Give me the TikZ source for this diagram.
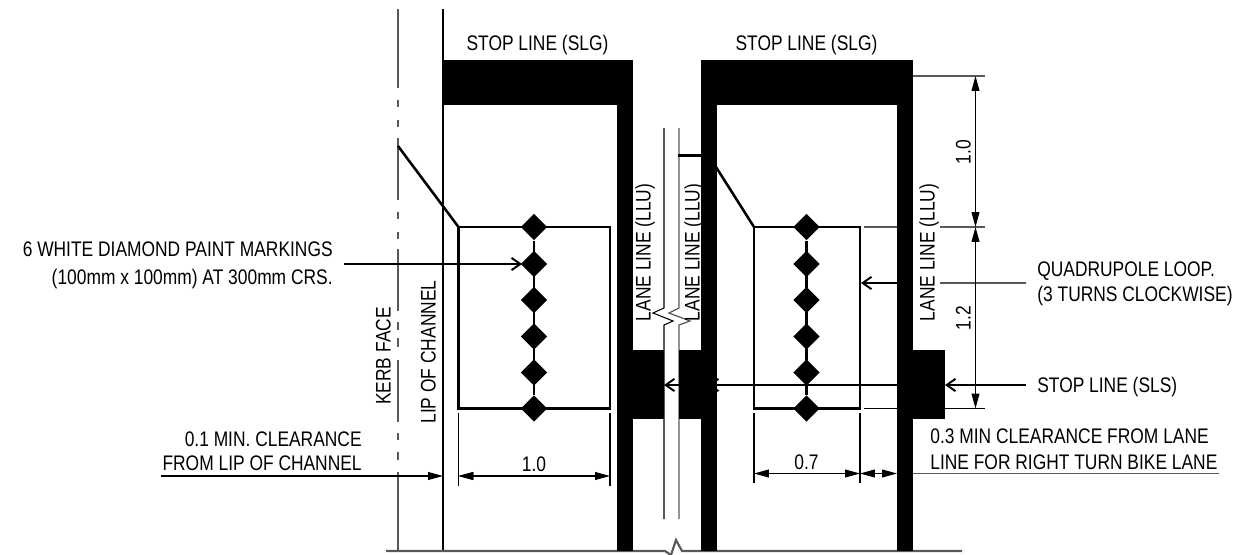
\documentclass[tikz,border=0pt]{standalone}
\usepackage{fontspec}
\setmainfont[FakeStretch=0.825]{Liberation Sans}
\usetikzlibrary{shapes.geometric, arrows.meta, positioning}
\tikzset{
  lbl/.style={inner sep=0pt, text height=8.6pt, text depth=0pt},
  loopline/.style={line width=1.45pt},
  thinline/.style={line width=0.6pt},
  grayline/.style={line width=0.7pt, black!65},
  paint/.style={fill=black, draw=none},
  marker/.style={diamond, fill=black, inner sep=0pt, minimum width=0.53cm, minimum height=0.53cm},
  dimline/.style={thinline, {Triangle[length=8.5pt,width=4.5pt]}-{Triangle[length=8.5pt,width=4.5pt]}},
  leader/.style={thinline, -{Straight Barb[length=5pt,width=7pt,line width=1.1pt]}},
}
\begin{document}
\begin{tikzpicture}[font=\fontsize{12}{14}\selectfont, x=0.02cm, y=-0.02cm]
\useasboundingbox (0,0) rectangle (1249,555);
% kerb face and lip of channel
\foreach \a/\b in {9/88,100/107,120/127,138/200,212/219,232/239,249/311,322/330,338/347,360/422,433/440,452/460,472/551}
  \draw[grayline] (398,\a) -- (398,\b);
\draw[thinline] (443,9) -- (443,551);
\draw[grayline, line width=1.2pt] (386,551) -- (665,551) -- (671,555) -- (676,540) -- (682,551) -- (962,551);
% lane lines
\draw[thinline] (664,128) -- (664,308) -- (653,313) -- (673,321) -- (664,325) -- (664,519);
\draw[grayline] (679,128) -- (679,308) -- (669,313) -- (690,321) -- (679,325) -- (679,519);
\draw[loopline] (678,155.5) -- (701,155.5);
% stop lines
\fill[paint] (443,60) rectangle (633,105);
\fill[paint] (617,60) rectangle (633,551);
\fill[paint] (701,60) rectangle (913,105);
\fill[paint] (701,60) rectangle (717,551);
\fill[paint] (897,60) rectangle (913,551);
\fill[paint] (633,350) rectangle (664,419);
\fill[paint] (679,350) rectangle (701,419);
\fill[paint] (913,350) rectangle (945,419);
% loops
\draw[loopline] (398,146) -- (458.5,227);
\draw[loopline] (458.5,227) rectangle (610,408.5);
\draw[loopline] (716,167) -- (754,227);
\draw[loopline] (754,227) rectangle (860,408.5);
\foreach \n/\y in {1/227,2/264,3/300,4/336.5,5/372.5,6/408.5} {
  \node[marker] (la\n) at (534,\y) {};
  \node[marker] (lb\n) at (806.5,\y) {};
}
\draw[loopline] (la1) -- (la6);
\draw[loopline] (lb1) -- (lb6);
% leaders
\draw[leader] (344,264) -- (522,264);
\draw[leader] (897,283) -- (861,283);
\draw[grayline] (940,283) -- (1026,283);
\draw[thinline] (1026,385) -- (1005,385);
\draw[leader] (1005,385) -- (945,385);
\draw[leader] (897,385) -- (708,385);
\draw[leader] (679,385) -- (664,385);
% dimensions
\draw[grayline] (913,76) -- (985,76);
\draw[grayline] (864,227) -- (897,227);
\draw[grayline] (940,227) -- (985,227);
\draw[thinline] (864,408.5) -- (985,408.5);
\draw[dimline] (975.5,76) -- (975.5,227);
\draw[dimline] (975.5,227) -- (975.5,408.5);
\draw[thinline] (458.5,413) -- (458.5,486);
\draw[thinline] (610,413) -- (610,486);
\draw[dimline] (458.5,476) -- (610,476);
\draw[thinline, -{Triangle[length=8.5pt,width=4.5pt]}] (161,476) -- (443,476);
\draw[thinline, -{Triangle[length=8.5pt,width=4.5pt]}] (489,476) -- (458.5,476);
\draw[thinline] (754,413) -- (754,483);
\draw[thinline] (860,413) -- (860,483);
\draw[dimline] (754,473.5) -- (860,473.5);
\draw[dimline] (860,473.5) -- (897,473.5);
\draw[grayline] (913,473.5) -- (1219,473.5);
% labels
\node[lbl] (slgl) at (537.5,43) {STOP LINE (SLG)};
\node[lbl] (slgr) at (806.5,43) {STOP LINE (SLG)};
\node[lbl, anchor=east] (marka) at (333,249) {6 WHITE DIAMOND PAINT MARKINGS};
\node[lbl, anchor=east] (markb) at (333,277) {(100mm x 100mm) AT 300mm CRS.};
\node[lbl, anchor=west] (quada) at (1037,269) {QUADRUPOLE LOOP.};
\node[lbl, anchor=west] (quadb) at (1037,294) {(3 TURNS CLOCKWISE)};
\node[lbl, anchor=west] (sls) at (1037,385) {STOP LINE (SLS)};
\node[lbl, anchor=east] (cleara) at (362,439) {0.1 MIN. CLEARANCE};
\node[lbl, anchor=east] (clearb) at (362,463) {FROM LIP OF CHANNEL};
\node[lbl, anchor=west] (clearc) at (930,436) {0.3 MIN CLEARANCE FROM LANE};
\node[lbl, anchor=west] (cleard) at (930,462) {LINE FOR RIGHT TURN BIKE LANE};
\node[lbl, rotate=90] (kerb) at (383,356) {KERB FACE};
\node[lbl, rotate=90] (lip) at (428,352) {LIP OF CHANNEL};
\node[lbl, rotate=90] (llua) at (643,252.5) {LANE LINE (LLU)};
\node[lbl, rotate=90] (llub) at (692,252.5) {LANE LINE (LLU)};
\node[lbl, rotate=90] (lluc) at (927,252.5) {LANE LINE (LLU)};
\node[lbl, rotate=90] (dima) at (963,152) {1.0};
\node[lbl, rotate=90] (dimb) at (963,318) {1.2};
\node[lbl] (dimc) at (534,464) {1.0};
\node[lbl] (dimd) at (806.5,462) {0.7};
\end{tikzpicture}
\end{document}
